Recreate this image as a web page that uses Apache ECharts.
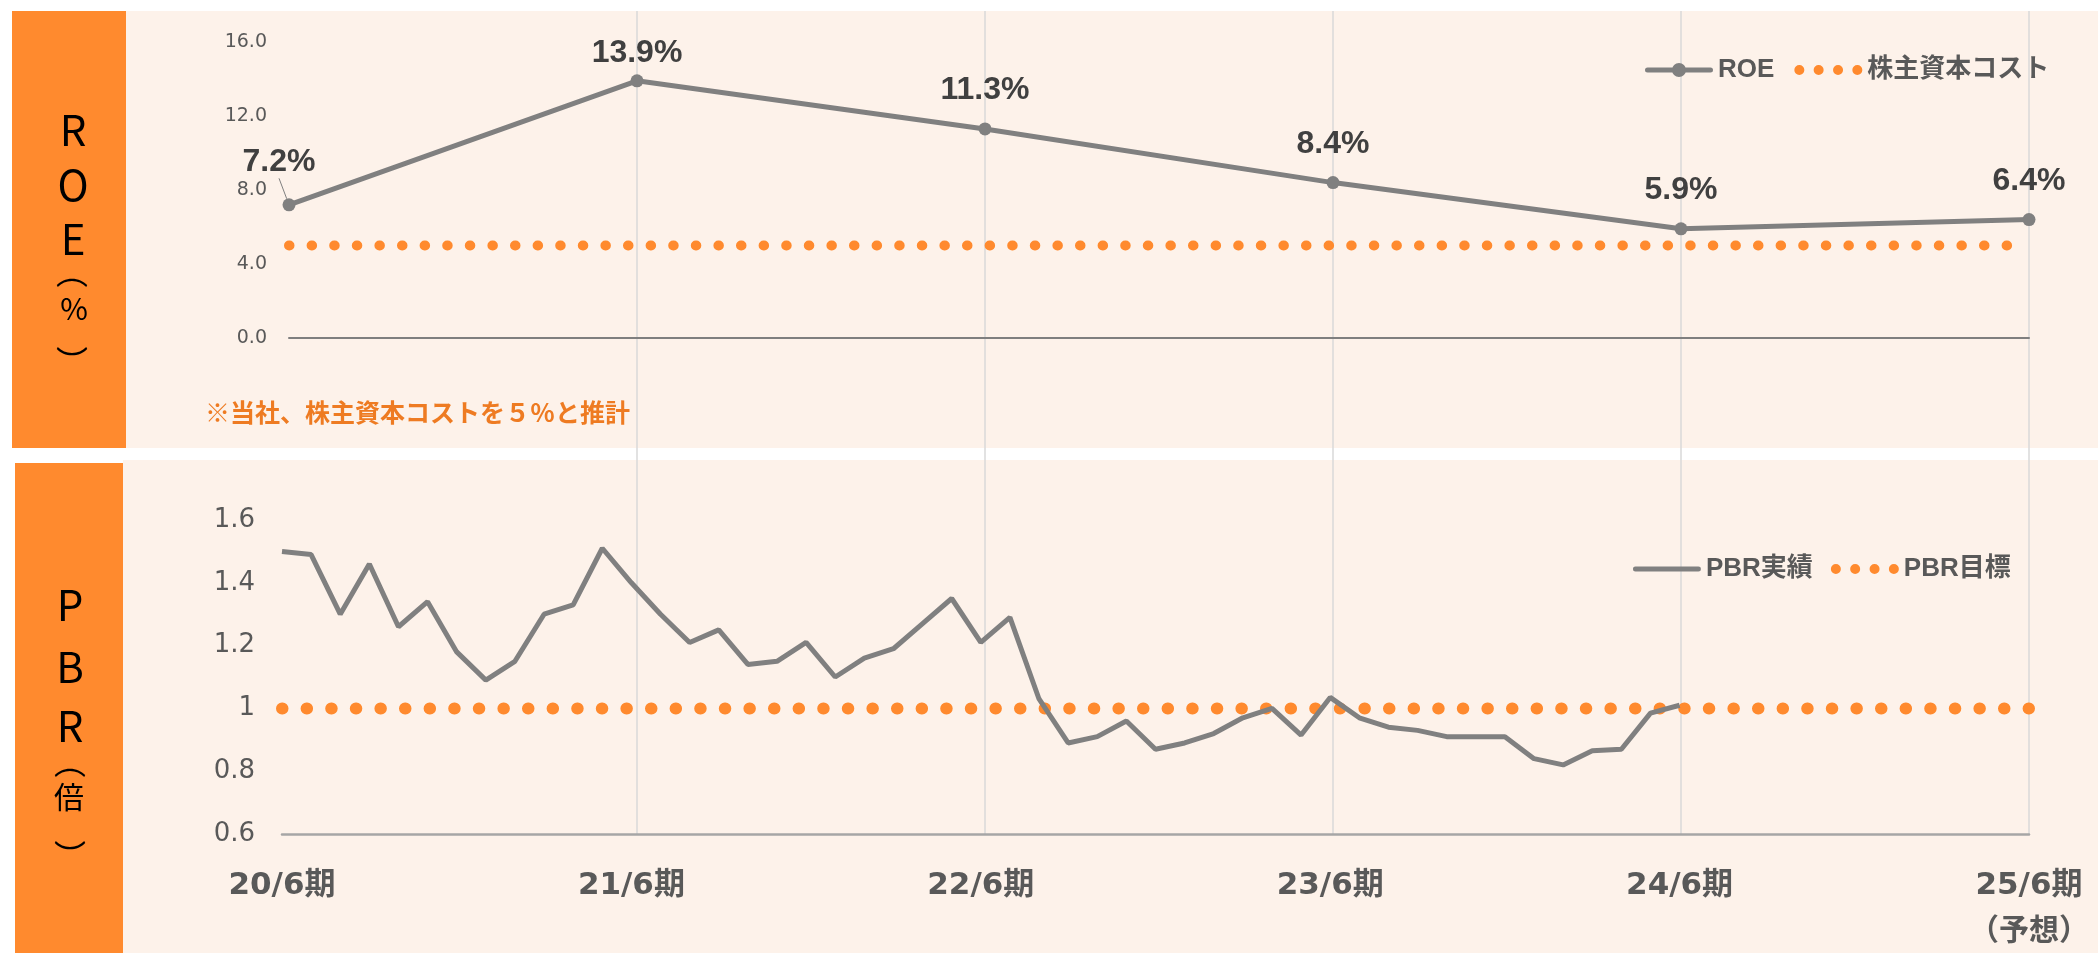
<!DOCTYPE html>
<html>
<head>
<meta charset="utf-8">
<script src="https://cdn.jsdelivr.net/npm/echarts/dist/echarts.min.js"></script>
<style>
  html, body { margin: 0; padding: 0; background: #ffffff; }
  #chart { width: 2098px; height: 953px; }
</style>
</head>
<body>
<div id="chart"></div>
<script>
// ROE（年度）
const years = ['20/6期', '21/6期', '22/6期', '23/6期', '24/6期', '25/6期'];
const roe = [7.2, 13.9, 11.3, 8.4, 5.9, 6.4];
const costOfEquity = [5, 5, 5, 5, 5, 5];

// PBR（月次）
const months = [
  '20/06', '20/07', '20/08', '20/09', '20/10', '20/11', '20/12',
  '21/01', '21/02', '21/03', '21/04', '21/05', '21/06', '21/07', '21/08', '21/09', '21/10', '21/11', '21/12',
  '22/01', '22/02', '22/03', '22/04', '22/05', '22/06', '22/07', '22/08', '22/09', '22/10', '22/11', '22/12',
  '23/01', '23/02', '23/03', '23/04', '23/05', '23/06', '23/07', '23/08', '23/09', '23/10', '23/11', '23/12',
  '24/01', '24/02', '24/03', '24/04', '24/05', '24/06', '24/07', '24/08', '24/09', '24/10', '24/11', '24/12',
  '25/01', '25/02', '25/03', '25/04', '25/05', '25/06'
];
const pbrActual = [
  1.50, 1.49, 1.30, 1.46, 1.26, 1.34, 1.18, 1.09, 1.15, 1.30, 1.33, 1.51, 1.40,
  1.30, 1.21, 1.25, 1.14, 1.15, 1.21, 1.10, 1.16, 1.19, 1.27, 1.35, 1.21,
  1.29, 1.03, 0.89, 0.91, 0.96, 0.87, 0.89, 0.92, 0.97, 1.00, 0.915, 1.035,
  0.97, 0.94, 0.93, 0.91, 0.91, 0.91, 0.84, 0.82, 0.865, 0.87, 0.985, 1.01
];
const pbrTarget = [['20/06', 1], ['25/06', 1]];
const monthTickLabels = ['20/6期', '21/6期', '22/6期', '23/6期', '24/6期', '25/6期'];

const GRAY = '#808080';
const ORANGE = '#FF8A2E';
const TEXT = '#595959';
const LATIN = '"Liberation Sans", Arial, "Noto Sans CJK JP", sans-serif';
const AXISFONT = '"DejaVu Sans", "Noto Sans CJK JP", sans-serif';
const JP = '"Noto Sans CJK JP", sans-serif';

// 凡例アイコン（線＋丸、線のみ、点線）
const ICON_LINE_DOT = 'path://M2.5,4.5H65.5A2.5,2.5 0 0 1 65.5,9.5H2.5A2.5,2.5 0 0 1 2.5,4.5Z'
  + 'M27,7A7,7 0 0 1 41,7A7,7 0 0 1 27,7Z';
const ICON_LINE = 'path://M2.5,4.5H65.5A2.5,2.5 0 0 1 65.5,9.5H2.5A2.5,2.5 0 0 1 2.5,4.5Z'
  + 'M0,0H0.01V0.01H0Z M0,14H0.01V14.01H0Z';
const ICON_DOTS = 'path://M0,5A5,5 0 0 1 10,5A5,5 0 0 1 0,5Z'
  + 'M19.3,5A5,5 0 0 1 29.3,5A5,5 0 0 1 19.3,5Z'
  + 'M38.7,5A5,5 0 0 1 48.7,5A5,5 0 0 1 38.7,5Z'
  + 'M58,5A5,5 0 0 1 68,5A5,5 0 0 1 58,5Z';

const chart = echarts.init(document.getElementById('chart'));

// 左側のオレンジ見出し
function sideText(str, x, y, size) {
  return {
    type: 'text', z: 100, x: x, y: y,
    style: { text: str, fill: '#000', fontSize: size, fontFamily: JP, align: 'center', verticalAlign: 'middle' }
  };
}

const option = {
  animation: false,
  textStyle: { fontFamily: LATIN },
  graphic: [
    { type: 'rect', z: -10, shape: { x: 126, y: 11, width: 1972, height: 437 }, style: { fill: '#FDF2EA' } },
    { type: 'rect', z: -10, shape: { x: 12, y: 11, width: 114, height: 437 }, style: { fill: ORANGE } },
    { type: 'rect', z: -10, shape: { x: 123, y: 460, width: 1975, height: 493 }, style: { fill: '#FDF2EA' } },
    { type: 'rect', z: -10, shape: { x: 15, y: 463, width: 108, height: 490 }, style: { fill: ORANGE } },
    sideText('R', 73, 130, 42),
    sideText('O', 73, 185, 42),
    sideText('E', 73, 239, 42),
    sideText('︵', 72, 272, 32),
    sideText('%', 74, 309, 30),
    sideText('︶', 72, 362, 32),
    sideText('P', 70, 605, 42),
    sideText('B', 70, 667, 42),
    sideText('R', 70, 726, 42),
    sideText('︵', 70, 762, 32),
    sideText('倍', 69, 797, 30),
    sideText('︶', 70, 856, 32),
    {
      type: 'text', z: 100, x: 205, y: 412,
      style: {
        text: '※当社、株主資本コストを５％と推計', fill: '#EE7B22',
        fontSize: 25, fontWeight: 'bold', fontFamily: JP, align: 'left', verticalAlign: 'middle'
      }
    }
  ],
  legend: [
    {
      left: 1640, top: 52, itemWidth: 68, itemHeight: 14, itemGap: 20,
      textStyle: { color: TEXT, fontSize: 26, fontWeight: 'bold', fontFamily: LATIN },
      data: [
        { name: 'ROE', icon: ICON_LINE_DOT },
        { name: '株主資本コスト', icon: ICON_DOTS }
      ]
    },
    {
      left: 1628, top: 551, itemWidth: 68, itemHeight: 14, itemGap: 18,
      textStyle: { color: TEXT, fontSize: 26, fontWeight: 'bold', fontFamily: LATIN },
      data: [
        { name: 'PBR実績', icon: ICON_LINE },
        { name: 'PBR目標', icon: ICON_DOTS }
      ]
    }
  ],
  grid: [
    { left: 289, right: 69, top: 42, height: 296, outerBoundsMode: 'none' },
    { left: 282, right: 69, top: 520, height: 314, outerBoundsMode: 'none' },
    { left: 289, right: 69, top: 11, height: 823, outerBoundsMode: 'none' }
  ],
  xAxis: [
    {
      gridIndex: 0, type: 'category', data: years, boundaryGap: false,
      axisLine: { lineStyle: { color: '#7F7F7F', width: 2 } },
      axisTick: { show: false }, axisLabel: { show: false }, splitLine: { show: false }
    },
    {
      gridIndex: 1, type: 'category', data: months, boundaryGap: false,
      axisLine: { lineStyle: { color: '#A6A6A6', width: 2.5 } },
      axisTick: { show: false }, splitLine: { show: false },
      axisLabel: {
        interval: (i) => i % 12 === 0,
        margin: 30,
        color: TEXT, fontSize: 31, fontWeight: 'bold', fontFamily: AXISFONT, lineHeight: 43,
        formatter: (v, i) => {
          const s = monthTickLabels[i / 12];
          return i === 60 ? s + '\n{p|（予想）}' : s;
        },
        rich: { p: { color: TEXT, fontSize: 30, fontWeight: 'bold', fontFamily: JP, lineHeight: 43 } }
      }
    },
    {
      // 年度の縦グリッド線（上下パネル共通）
      gridIndex: 2, type: 'category', data: years, boundaryGap: false,
      axisLine: { show: false }, axisTick: { show: false }, axisLabel: { show: false },
      splitLine: { show: true, showMinLine: false, lineStyle: { color: '#D9D9D9', width: 1.5 } }
    }
  ],
  yAxis: [
    {
      gridIndex: 0, type: 'value', min: 0, max: 16, interval: 4,
      axisLine: { show: false }, axisTick: { show: false }, splitLine: { show: false },
      axisLabel: { margin: 22, color: TEXT, fontSize: 19, fontFamily: AXISFONT, formatter: (v) => v.toFixed(1) }
    },
    {
      gridIndex: 1, type: 'value', min: 0.6, max: 1.6, interval: 0.2,
      axisLine: { show: false }, axisTick: { show: false }, splitLine: { show: false },
      axisLabel: { margin: 27, color: TEXT, fontSize: 26, fontFamily: AXISFONT }
    },
    { gridIndex: 2, type: 'value', show: false, min: 0, max: 1 }
  ],
  series: [
    {
      name: 'ROE', type: 'line', xAxisIndex: 0, yAxisIndex: 0,
      symbol: 'circle', symbolSize: 13, z: 5,
      itemStyle: { color: GRAY },
      lineStyle: { color: GRAY, width: 5 },
      label: {
        show: true, position: 'top', distance: 16,
        color: '#404040', fontSize: 32, fontWeight: 'bold', fontFamily: LATIN,
        formatter: (p) => p.value.toFixed(1) + '%'
      },
      labelLine: { lineStyle: { color: GRAY, width: 1 } },
      labelLayout: (p) => (p.dataIndex === 0 ? { dx: -10, dy: -4 } : null),
      data: roe.map((v, i) => {
        if (i === 0) return { value: v, labelLine: { show: true } };
        if (i === 1) return { value: v, label: { distance: 5 } };
        return v;
      })
    },
    {
      name: '株主資本コスト', type: 'line', xAxisIndex: 0, yAxisIndex: 0,
      symbol: 'none', z: 3,
      itemStyle: { color: ORANGE },
      lineStyle: { color: ORANGE, width: 10, type: [0.5, 22.1], cap: 'round' },
      data: costOfEquity
    },
    {
      name: 'PBR実績', type: 'line', xAxisIndex: 1, yAxisIndex: 1,
      symbol: 'none', z: 5,
      itemStyle: { color: GRAY },
      lineStyle: { color: GRAY, width: 5 },
      data: pbrActual
    },
    {
      name: 'PBR目標', type: 'line', xAxisIndex: 1, yAxisIndex: 1,
      symbol: 'none', z: 3,
      itemStyle: { color: ORANGE },
      lineStyle: { color: ORANGE, width: 12, type: [0.5, 24.1], cap: 'round' },
      data: pbrTarget
    }
  ]
};

chart.setOption(option);
window.addEventListener('resize', () => chart.resize());
</script>
</body>
</html>
